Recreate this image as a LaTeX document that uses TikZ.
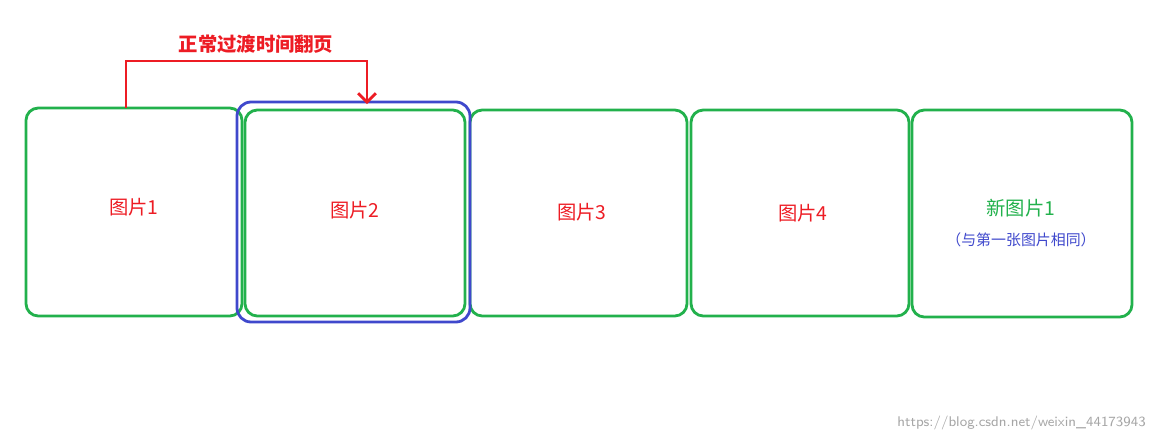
\documentclass[tikz,border=0pt]{standalone}
\usepackage{fontspec}
\newfontfamily\cjk{Noto Sans CJK SC}
\usetikzlibrary{positioning, arrows.meta}
\definecolor{pgreen}{HTML}{22B14C}
\definecolor{pblue}{HTML}{3F48CC}
\definecolor{pred}{HTML}{ED1C24}
\begin{document}
\begin{tikzpicture}[x=0.02cm, y=-0.02cm, font=\cjk]
    \tikzset{pic/.style={draw=pgreen, line width=1.6pt, rounded corners=7pt},
             lbl/.style={text=pred, font=\cjk\fontsize{11}{13}\selectfont}}
    \useasboundingbox (0,0) rectangle (1160,440);

    % PICTURE BOXES
    \draw[pic] (26,108) rectangle (242,316);
    \draw[pic] (245,110) rectangle (465,316);
    \draw[pic] (470,110) rectangle (687,316);
    \draw[pic] (691,110) rectangle (909,316);
    \draw[pic] (912,110) rectangle (1132,317);
    \draw[draw=pblue, line width=1.6pt, rounded corners=8pt] (237,102) rectangle (470,322);

    % LABELS
    \node[lbl] (p1) at (134,207) {图片1};
    \node[lbl] (p2) at (355,210) {图片2};
    \node[lbl] (p3) at (582,212) {图片3};
    \node[lbl] (p4) at (803,213) {图片4};
    \node[lbl, text=pgreen] (np1) at (1021,208) {新图片1};
    \node[text=pblue, font=\cjk\fontsize{8.5}{10}\selectfont] (same) at (1021,240) {（与第一张图片相同）};

    % FLIP ARROW
    \coordinate (from) at (126,108);
    \coordinate (to) at (367,104);
    \draw[pred, line width=1.6pt, -{Straight Barb[length=5pt, width=10pt]}]
        (from) -- (126,61) -- (367,61) -- (to);
    \node[lbl, font=\cjk\bfseries\fontsize{11}{13}\selectfont] (flip) at (256,44) {正常过渡时间翻页};

    \node[text=gray!70, font=\sffamily\fontsize{8}{10}\selectfont, anchor=east] (mark) at (1152,423) {https://blog.csdn.net/weixin\_44173943};
\end{tikzpicture}
\end{document}
